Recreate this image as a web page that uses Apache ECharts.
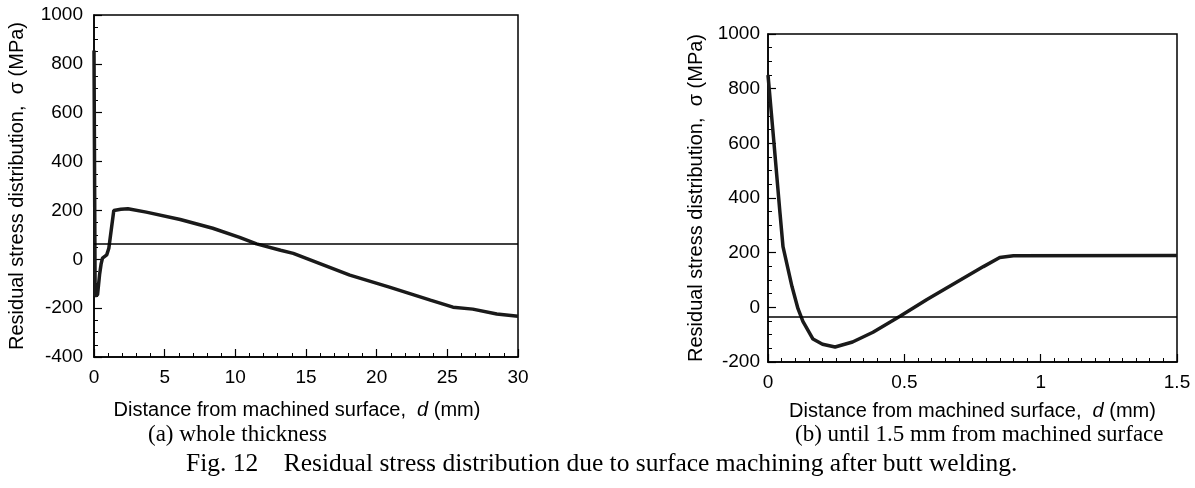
<!DOCTYPE html>
<html>
<head>
<meta charset="utf-8">
<script src="https://cdn.jsdelivr.net/npm/echarts@6/dist/echarts.min.js"></script>
<style>
html,body{margin:0;padding:0;background:#fff;}
#chart{width:1195px;height:488px;}
</style>
</head>
<body>
<div id="chart"></div>
<script>
// ---- Data ----
const leftDistance = [0, 0.08, 0.25, 0.4, 0.5, 0.6, 0.9, 1.05, 1.4, 1.9, 2.4, 3.7, 6.1, 8.4, 10.3, 11.5, 13.2, 14.1, 18.1, 20.9, 23.8, 25.4, 26.8, 28.5, 30];
const leftStress   = [855, -150, -145, -60, -20, 5, 18, 45, 200, 205, 207, 193, 163, 127, 90, 63, 37, 24, -65, -114, -167, -196, -204, -224, -233];
const leftRefLine = 65;

const rightDistance = [0, 0.022, 0.044, 0.055, 0.088, 0.11, 0.128, 0.165, 0.2, 0.246, 0.31, 0.385, 0.484, 0.583, 0.79, 0.85, 0.9, 1.5];
const rightStress   = [850, 600, 345, 222, 76, -5, -51, -116, -135, -145, -127, -91, -33, 29, 149, 182, 189, 190];
const rightRefLine = -33;

const leftXTicks = {min: 0, max: 30, interval: 5, minor: 5};
const leftYTicks = {min: -400, max: 1000, interval: 200, minor: 4};
const rightXTicks = {min: 0, max: 1.5, interval: 0.5, minor: 10};
const rightYTicks = {min: -200, max: 1000, interval: 200, minor: 4};

const yName = 'Residual stress distribution,  σ (MPa)';
const xNameParts = ['Distance from machined surface,  ', 'd', ' (mm)'];
const captionA = '(a) whole thickness';
const captionB = '(b) until 1.5 mm from machined surface';
const figCaption = 'Fig. 12    Residual stress distribution due to surface machining after butt welding.';

// ---- Chart ----
const SANS = "'Liberation Sans', Arial, sans-serif";
const SERIF = "'Liberation Serif', 'Times New Roman', serif";

function zip(a, b){ return a.map((v,i)=>[v,b[i]]); }
function fmt(v){ return String(v); }

function xAxisCfg(t, gi, gap, pad, fs){
  return {
    type:'value', gridIndex:gi, min:t.min, max:t.max, interval:t.interval,
    name:'{a|'+xNameParts[0]+'}{i|'+xNameParts[1]+'}{a|'+xNameParts[2]+'}',
    nameLocation:'middle', nameGap:gap,
    nameTextStyle:{padding:pad, rich:{
      a:{fontFamily:SANS, fontSize:fs, color:'#000'},
      i:{fontFamily:SANS, fontSize:fs, fontStyle:'italic', color:'#000'}
    }},
    axisLine:{onZero:false, lineStyle:{color:'#000', width:1.5}},
    axisTick:{inside:true, length:8, lineStyle:{color:'#000', width:1.2}},
    minorTick:{show:true, splitNumber:t.minor, length:4, lineStyle:{color:'#000', width:1}},
    splitLine:{show:false}, minorSplitLine:{show:false},
    axisLabel:{color:'#000', fontSize:19, fontFamily:SANS, margin:11, formatter:fmt}
  };
}
function yAxisCfg(t, gi, gap, margin){
  return {
    type:'value', gridIndex:gi, min:t.min, max:t.max, interval:t.interval,
    name:yName, nameLocation:'middle', nameGap:gap,
    nameTextStyle:{fontFamily:SANS, fontSize:20, color:'#000'},
    axisLine:{onZero:false, lineStyle:{color:'#000', width:1.5}},
    axisTick:{inside:true, length:8, lineStyle:{color:'#000', width:1.2}},
    minorTick:{show:true, splitNumber:t.minor, length:4, lineStyle:{color:'#000', width:1}},
    splitLine:{show:false}, minorSplitLine:{show:false},
    axisLabel:{color:'#000', fontSize:19, fontFamily:SANS, margin:margin, formatter:fmt}
  };
}
function refLine(v){
  return {silent:true, symbol:'none', label:{show:false},
    lineStyle:{color:'#000', width:1.5, type:'solid'},
    emphasis:{disabled:true},
    data:[{yAxis:v}]};
}

const chart = echarts.init(document.getElementById('chart'), null, {renderer:'canvas'});
chart.setOption({
  animation:false,
  backgroundColor:'#fff',
  grid:[
    {left:94, top:15, right:677, bottom:131, show:true, borderColor:'#000', borderWidth:1.5, backgroundColor:'transparent'},
    {left:768, top:34, right:18, bottom:126, show:true, borderColor:'#000', borderWidth:1.5, backgroundColor:'transparent'}
  ],
  xAxis:[ xAxisCfg(leftXTicks, 0, 43, [0, 18, 0, 0], 20), xAxisCfg(rightXTicks, 1, 39, 0, 20) ],
  yAxis:[ yAxisCfg(leftYTicks, 0, 67, 11), yAxisCfg(rightYTicks, 1, 62, 8) ],
  series:[
    {type:'line', xAxisIndex:0, yAxisIndex:0, data:zip(leftDistance,leftStress), clip:false,
      showSymbol:false, lineStyle:{color:'#1a1a1a', width:3.5}, markLine:refLine(leftRefLine)},
    {type:'line', xAxisIndex:1, yAxisIndex:1, data:zip(rightDistance,rightStress), clip:false,
      showSymbol:false, lineStyle:{color:'#1a1a1a', width:3.5}, markLine:refLine(rightRefLine)}
  ],
  graphic:[
    {type:'text', left:148, top:423, style:{text:captionA, font:'23px '+SERIF, fill:'#000'}},
    {type:'text', left:795, top:423, style:{text:captionB, font:'23px '+SERIF, fill:'#000'}},
    {type:'text', left:186, top:451, style:{text:figCaption, font:'25.5px '+SERIF, fill:'#000'}}
  ]
});
</script>
</body>
</html>
